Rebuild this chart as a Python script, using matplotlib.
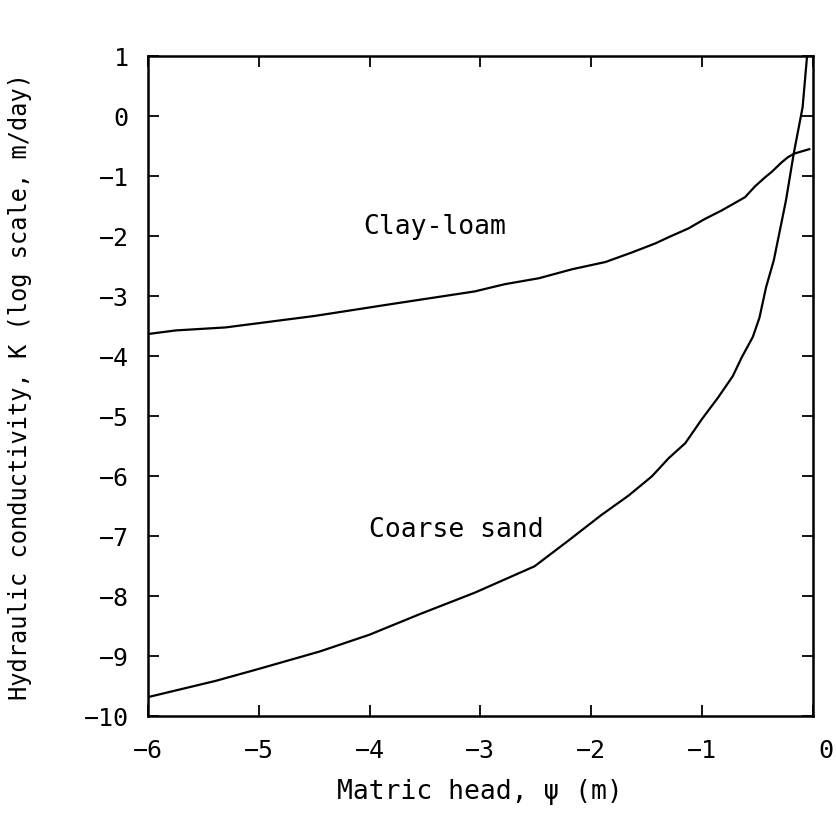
import matplotlib.pyplot as plt
import matplotlib.transforms as mtransforms

# matric head (m) vs log10 K (m/day)
clay_psi = [-6.0, -5.75, -5.3, -4.5, -3.8, -3.05, -2.78, -2.47, -2.17, -1.87,
            -1.63, -1.42, -1.28, -1.12, -0.98, -0.82, -0.61, -0.52, -0.43,
            -0.37, -0.28, -0.22, -0.16, -0.03]
clay_logk = [-3.63, -3.57, -3.52, -3.33, -3.13, -2.92, -2.80, -2.70, -2.55, -2.43,
             -2.27, -2.12, -2.00, -1.87, -1.72, -1.57, -1.35, -1.17, -1.02,
             -0.93, -0.77, -0.68, -0.62, -0.55]

sand_psi = [-6.0, -5.39, -5.0, -4.45, -4.0, -3.55, -3.05, -2.51, -2.21, -1.91,
            -1.66, -1.45, -1.30, -1.15, -1.0, -0.85, -0.72, -0.64, -0.54, -0.48,
            -0.42, -0.35, -0.24, -0.17, -0.09, -0.05]
sand_logk = [-9.68, -9.41, -9.21, -8.92, -8.64, -8.30, -7.94, -7.50, -7.08, -6.65,
             -6.32, -6.00, -5.70, -5.45, -5.05, -4.68, -4.33, -4.02, -3.68, -3.36,
             -2.85, -2.40, -1.40, -0.62, 0.15, 1.0]

xticks = [-6, -5, -4, -3, -2, -1, 0]
yticks = list(range(-10, 2))

plt.rcParams['font.family'] = ['DejaVu Sans Mono']

fig = plt.figure(figsize=(8.36, 8.14), dpi=100)
ax = fig.add_axes([0.177, 0.12, 0.795, 0.811])

ax.plot(clay_psi, clay_logk, color='black', lw=1.6)
ax.plot(sand_psi, sand_logk, color='black', lw=1.6)

ax.text(-3.41, -1.84, "Clay-loam", fontsize=19, ha='center', va='center')
ax.text(-3.22, -6.89, "Coarse sand", fontsize=19, ha='center', va='center')

ax.set_xlim(-6, 0)
ax.set_ylim(-10, 1)
ax.set_xticks(xticks)
ax.set_yticks(yticks)
ax.tick_params(direction='in', length=8, width=1.3, labelsize=18,
               top=True, right=True)
ax.tick_params(axis='x', pad=16)
ax.tick_params(axis='y', pad=14)
for s in ax.spines.values():
    s.set_linewidth(1.8)

# the "0" label sits a little right of the axis corner
lbl0 = ax.get_xticklabels()[-1]
lbl0.set_transform(lbl0.get_transform() +
                   mtransforms.ScaledTranslation(0.13, 0, fig.dpi_scale_trans))

ax.set_xlabel("Matric head, \u03c8 (m)", fontsize=19, labelpad=12)
ax.set_ylabel("Hydraulic conductivity, K (log scale, m/day)", fontsize=17)
ax.yaxis.set_label_coords(-0.175, 0.5)

fig.savefig("out.png", dpi=100)
